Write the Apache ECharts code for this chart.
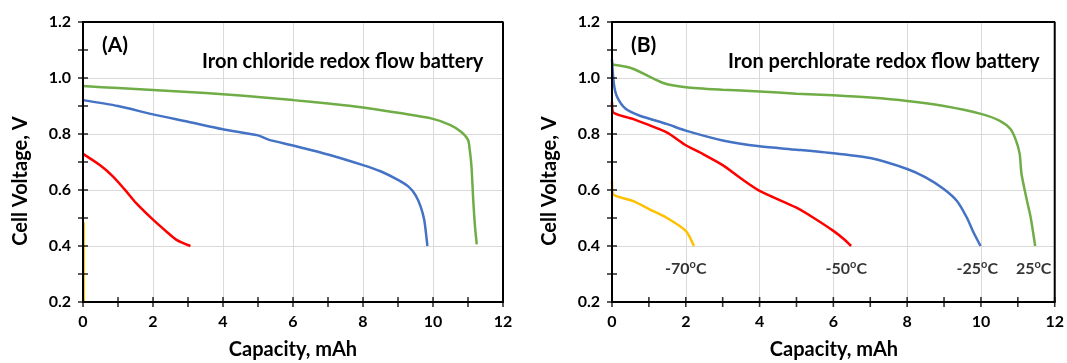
<!DOCTYPE html>
<html><head><meta charset="utf-8">
<script src="https://cdn.jsdelivr.net/npm/echarts@6/dist/echarts.min.js"></script>
<style>html,body{margin:0;padding:0;background:#fff}#c{width:1067px;height:363px}</style>
</head><body><div id="c"></div>
<script>
// ---- Data ----
const xTitle = 'Capacity, mAh';
const yTitle = 'Cell Voltage, V';
const panelTags = ['(A)', '(B)'];
const panelTitles = ['Iron chloride redox flow battery', 'Iron perchlorate redox flow battery'];
const X_MIN = 0, X_MAX = 12, Y_MIN = 0.2, Y_MAX = 1.2;
const xTickValues = [0, 1, 2, 3, 4, 5, 6, 7, 8, 9, 10, 11, 12];
const yTickValues = [0.2, 0.3, 0.4, 0.5, 0.6, 0.7, 0.8, 0.9, 1.0, 1.1, 1.2];

// Panel A: iron chloride
const chlGreen = [[0,0.971],[1,0.964],[2,0.957],[3,0.950],[4,0.942],[5,0.932],[6,0.921],[7,0.909],[8,0.895],[9,0.876],[10,0.854],[10.5,0.832],[10.8,0.808],[11.0,0.779],[11.05,0.743],[11.1,0.683],[11.15,0.564],[11.2,0.469],[11.25,0.406]];
const chlBlue = [[0,0.921],[1,0.900],[2,0.870],[3,0.844],[4,0.817],[5,0.795],[5.3,0.780],[6,0.759],[7,0.727],[8,0.689],[8.5,0.667],[9,0.636],[9.3,0.612],[9.5,0.582],[9.65,0.540],[9.75,0.493],[9.8,0.445],[9.84,0.400]];
const chlRed = [[0,0.729],[0.48,0.689],[0.86,0.648],[1.19,0.602],[1.52,0.553],[2.0,0.494],[2.38,0.452],[2.67,0.422],[3.07,0.400]];
const chlYellow = [[0.02,0.485],[0.02,0.2]];

// Panel B: iron perchlorate
const perGreen = [[0,1.048],[0.55,1.034],[1.39,0.982],[2,0.967],[3,0.958],[4,0.952],[5,0.944],[6,0.938],[7,0.930],[8,0.918],[9,0.900],[10,0.872],[10.5,0.848],[10.8,0.818],[10.95,0.777],[11.05,0.729],[11.1,0.657],[11.25,0.561],[11.35,0.501],[11.47,0.400]];
const perBlue = [[0,1.066],[0.05,0.980],[0.14,0.932],[0.37,0.890],[0.74,0.866],[1.48,0.836],[2,0.812],[3,0.777],[4,0.756],[5,0.744],[6,0.731],[7,0.714],[8,0.675],[8.5,0.645],[9,0.603],[9.35,0.561],[9.62,0.501],[9.8,0.448],[9.99,0.400]];
const perRed = [[0,0.914],[0.03,0.878],[0.56,0.854],[1.48,0.806],[2,0.760],[2.4,0.733],[3,0.689],[3.52,0.639],[4,0.597],[5,0.537],[5.46,0.501],[6,0.454],[6.29,0.424],[6.48,0.400]];
const perYellow = [[0,0.633],[0.03,0.585],[0.56,0.561],[1.02,0.531],[1.48,0.501],[2,0.454],[2.22,0.400]];

const tempNames = ['-70', '-50', '-25', '25'];
const tempLabelX = [2.0, 6.35, 9.9, 11.43];
const tempLabelY = 0.32;

// ---- Styles ----
const FONT = 'Lato';
const C = { green: '#70AD47', blue: '#4472C4', red: '#FF0000', yellow: '#FFC000' };

function axesFor(gridIndex) {
  return {
    x: { type: 'value', gridIndex, min: X_MIN, max: X_MAX, interval: 2, position: 'bottom',
      axisLine: { show: true, onZero: false, lineStyle: { color: '#000', width: 2 } },
      axisTick: { show: false },
      axisLabel: { show: true, margin: 12, fontFamily: FONT, fontWeight: 'bold', fontSize: 16, color: '#000' },
      splitLine: { show: true, lineStyle: { color: '#d9d9d9', width: 1 } } },
    y: { type: 'value', gridIndex, min: Y_MIN, max: Y_MAX, interval: 0.2, position: 'left',
      axisLine: { show: true, onZero: false, lineStyle: { color: '#000', width: 2 } },
      axisTick: { show: false },
      axisLabel: { show: true, margin: 12, fontFamily: FONT, fontWeight: 'bold', fontSize: 16, color: '#000',
        formatter: v => v.toFixed(1) },
      splitLine: { show: true, lineStyle: { color: '#d9d9d9', width: 1 } } }
  };
}
const A = axesFor(0), B = axesFor(1);
const IA = 0, IB = 1;

function line(data, color, idx) {
  return { type: 'line', data, xAxisIndex: idx, yAxisIndex: idx, showSymbol: false, symbol: 'none',
    smooth: 0.25, lineStyle: { color, width: 2.5 }, z: 3, silent: true };
}

// plot frame and crossing ticks, drawn through each panel's own axes
function frameSeries(idx) {
  const corners = [[X_MIN, Y_MIN], [X_MAX, Y_MIN], [X_MAX, Y_MAX], [X_MIN, Y_MAX], [X_MIN, Y_MIN]];
  return [
    { type: 'line', data: corners, xAxisIndex: idx, yAxisIndex: idx, showSymbol: false, symbol: 'none',
      smooth: false, clip: false, silent: true, z: 6, lineStyle: { color: '#000', width: 2 } },
    { type: 'scatter', data: xTickValues.map(v => [v, Y_MIN]), xAxisIndex: idx, yAxisIndex: idx,
      symbol: 'rect', symbolSize: [1.6, 10], clip: false, silent: true, z: 6, itemStyle: { color: '#000' } },
    { type: 'scatter', data: yTickValues.map(v => [X_MIN, v]), xAxisIndex: idx, yAxisIndex: idx,
      symbol: 'rect', symbolSize: [10, 1.6], clip: false, silent: true, z: 6, itemStyle: { color: '#000' } }
  ];
}

const bold = { fontFamily: FONT, fontWeight: 'bold', color: '#000' };
const axisFont = 'bold 20px ' + FONT;

const option = {
  backgroundColor: '#fff',
  animation: false,
  grid: [
    { left: 83, top: 22, width: 420, height: 280 },
    { left: 612, top: 22, width: 444, height: 280 }
  ],
  xAxis: [A.x, B.x],
  yAxis: [A.y, B.y],
  title: [
    { text: panelTags[0], left: 102, top: 35, padding: 0, textStyle: { ...bold, fontSize: 21 } },
    { text: panelTitles[0], left: 202, top: 52, padding: 0, textStyle: { ...bold, fontSize: 20 } },
    { text: panelTags[1], left: 631, top: 35, padding: 0, textStyle: { ...bold, fontSize: 21 } },
    { text: panelTitles[1], left: 728, top: 52, padding: 0, textStyle: { ...bold, fontSize: 20 } }
  ],
  graphic: [
    { type: 'text', x: 293, y: 350, style: { text: xTitle, font: axisFont, fill: '#000', align: 'center', verticalAlign: 'middle' } },
    { type: 'text', x: 834, y: 350, style: { text: xTitle, font: axisFont, fill: '#000', align: 'center', verticalAlign: 'middle' } },
    { type: 'text', x: 21, y: 181, rotation: Math.PI / 2, style: { text: yTitle, font: axisFont, fill: '#000', align: 'center', verticalAlign: 'middle' } },
    { type: 'text', x: 550, y: 181, rotation: Math.PI / 2, style: { text: yTitle, font: axisFont, fill: '#000', align: 'center', verticalAlign: 'middle' } }
  ],
  series: [
    line(chlGreen, C.green, IA), line(chlBlue, C.blue, IA), line(chlRed, C.red, IA),
    { ...line(chlYellow, C.yellow, IA), smooth: false },
    line(perGreen, C.green, IB), line(perBlue, C.blue, IB), line(perRed, C.red, IB), line(perYellow, C.yellow, IB),
    ...frameSeries(IA), ...frameSeries(IB),
    { type: 'scatter', xAxisIndex: IB, yAxisIndex: IB, symbolSize: 0, silent: true,
      data: tempNames.map((n, i) => ({ value: [tempLabelX[i], tempLabelY], name: n })),
      label: { show: true, position: 'inside',
        formatter: p => '{n|' + p.name + '}{s|o}{n|C}',
        rich: {
          n: { fontFamily: FONT, fontWeight: 'bold', fontSize: 16, color: '#000', lineHeight: 18 },
          s: { fontFamily: FONT, fontWeight: 'bold', fontSize: 11, color: '#000', lineHeight: 18, verticalAlign: 'top', padding: [0, 0, 8, 0] }
        } } }
  ]
};
echarts.init(document.getElementById('c'), null, { renderer: 'canvas' }).setOption(option);
</script></body></html>
